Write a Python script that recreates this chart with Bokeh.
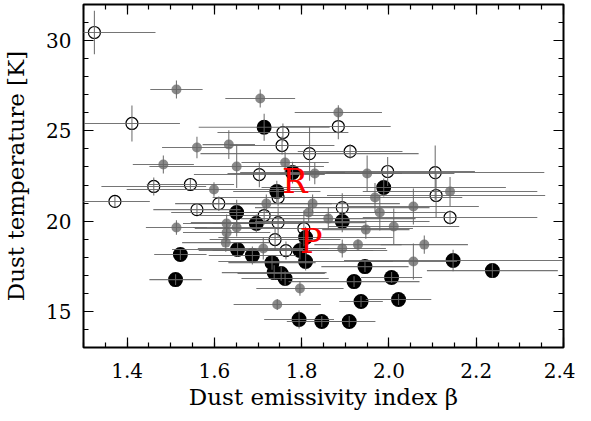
from bokeh.plotting import figure
from bokeh.models import ColumnDataSource, FixedTicker, LinearAxis, Range1d
from bokeh.core.properties import value
from bokeh.embed import file_html
from bokeh.resources import INLINE

# --- data: black filled points ---
blk_beta = [1.714, 1.779, 1.743, 1.651, 1.696, 1.653, 1.687, 1.732, 1.737, 1.753, 1.762, 1.796, 1.809, 1.809,
            1.522, 1.511, 1.794, 1.846, 1.909, 1.936, 2.022, 1.920, 2.006, 1.945, 2.147, 2.237, 1.988, 1.893]
blk_temp = [25.2, 22.69, 21.64, 20.48, 19.87, 18.43, 18.1, 17.7, 17.15, 17.1, 16.82, 18.37, 17.76, 19.09,
            18.15, 16.76, 14.55, 14.44, 14.44, 15.55, 15.66, 16.65, 16.88, 17.48, 17.82, 17.26, 21.86, 19.98]
blk_beta_err = [0.15, 0.12, 0.10, 0.15, 0.10, 0.15, 0.10, 0.10, 0.12, 0.10, 0.10, 0.20, 0.20, 0.20,
                0.06, 0.06, 0.08, 0.08, 0.06, 0.05, 0.075, 0.15, 0.07, 0.10, 0.25, 0.15, 0.28, 0.20]
blk_temp_err = [0.75, 0.6, 0.6, 0.7, 0.5, 0.4, 0.5, 0.4, 0.4, 0.4, 0.4, 0.5, 0.5, 0.6,
                0.3, 0.3, 0.5, 0.3, 0.3, 0.3, 0.3, 0.3, 0.3, 0.3, 0.6, 0.4, 0.5, 0.6]

# --- data: open circles ---
opn_beta = [1.325, 1.411, 1.757, 1.755, 1.818, 1.703, 1.884, 1.911, 1.997, 2.106, 2.108, 2.140, 1.893,
            1.372, 1.461, 1.545, 1.560, 1.610, 1.746, 1.714, 1.746, 1.739, 1.764, 1.805]
opn_temp = [30.45, 25.41, 24.91, 24.19, 23.74, 22.58, 25.24, 23.86, 22.75, 22.69, 21.42, 20.2, 20.75,
            21.09, 21.92, 22.03, 20.64, 20.97, 21.31, 20.31, 19.92, 18.98, 18.37, 19.59]
opn_beta_err = [0.14, 0.11, 0.15, 0.12, 0.25, 0.15, 0.12, 0.12, 0.20, 0.25, 0.25, 0.20, 0.20,
                0.08, 0.12, 0.10, 0.10, 0.10, 0.15, 0.15, 0.20, 0.15, 0.20, 0.25]
opn_temp_err = [1.2, 1.0, 0.5, 0.5, 1.5, 0.7, 0.7, 0.4, 0.8, 1.5, 1.2, 0.4, 0.8,
                0.3, 0.5, 0.3, 0.3, 0.4, 0.5, 0.5, 0.8, 0.6, 0.5, 1.0]

# --- data: gray filled points ---
gry_beta = [1.513, 1.705, 1.560, 1.633, 1.483, 1.651, 1.762, 1.830, 1.884, 1.950, 1.968, 2.140, 2.056,
            1.979, 1.861, 2.011, 1.947, 2.081, 1.929, 1.893, 2.056, 1.599, 1.719, 1.825, 1.513, 1.628,
            1.628, 1.626, 1.651, 1.712, 1.796, 1.744, 1.816]
gry_temp = [27.29, 26.79, 24.08, 24.24, 23.14, 23.03, 23.25, 22.64, 26.02, 22.64, 21.31, 21.64, 20.81,
            20.48, 20.14, 19.7, 19.53, 18.7, 18.7, 18.48, 17.76, 21.75, 20.97, 20.97, 19.65, 19.87,
            19.37, 18.81, 19.65, 18.48, 16.27, 15.38, 20.48]
gry_beta_err = [0.06, 0.08, 0.08, 0.06, 0.07, 0.20, 0.10, 0.20, 0.10, 0.20, 0.20, 0.20, 0.15,
                0.15, 0.20, 0.15, 0.10, 0.10, 0.10, 0.10, 0.10, 0.20, 0.15, 0.20, 0.07, 0.10,
                0.10, 0.10, 0.10, 0.15, 0.10, 0.10, 0.20]
gry_temp_err = [0.5, 0.5, 0.6, 0.8, 0.5, 1.2, 0.6, 0.6, 0.4, 1.0, 0.8, 0.8, 1.0,
                1.0, 0.6, 1.0, 0.5, 0.5, 0.3, 0.5, 1.0, 0.4, 0.5, 0.5, 0.4, 0.5,
                0.5, 0.5, 0.5, 0.6, 0.4, 0.3, 0.5]

# --- labels ---
label_text = ["R", "P"]
label_beta = [1.784, 1.822]
label_temp = [22.2, 18.88]

x_major = [1.4, 1.6, 1.8, 2.0, 2.2, 2.4]
x_labels = ["1.4", "1.6", "1.8", "2.0", "2.2", "2.4"]
x_minor = [round(1.3 + 0.05 * i, 2) for i in range(23)]
y_major = [15, 20, 25, 30]
y_labels = ["15", "20", "25", "30"]
y_minor = list(range(13, 33))

FONT = "DejaVu Serif"

p = figure(width=575, height=413, output_backend="svg", toolbar_location=None,
           x_range=Range1d(1.3, 2.4), y_range=Range1d(13, 32),
           min_border_left=77, min_border_right=12, min_border_top=4, min_border_bottom=66,
           background_fill_color="white", border_fill_color="white")
p.grid.visible = False
p.outline_line_color = "black"
p.outline_line_width = 2


def src(xs, ys, xe, ye):
    return ColumnDataSource(dict(
        x=xs, y=ys,
        x0=[a - e for a, e in zip(xs, xe)], x1=[a + e for a, e in zip(xs, xe)],
        y0=[a - e for a, e in zip(ys, ye)], y1=[a + e for a, e in zip(ys, ye)]))


s_gry = src(gry_beta, gry_temp, gry_beta_err, gry_temp_err)
s_opn = src(opn_beta, opn_temp, opn_beta_err, opn_temp_err)
s_blk = src(blk_beta, blk_temp, blk_beta_err, blk_temp_err)

p.scatter("x", "y", source=s_gry, size=10, fill_color="#8a8a8a", line_color=None)
p.scatter("x", "y", source=s_opn, size=12, fill_color=None, line_color="black", line_width=1.2)
p.scatter("x", "y", source=s_blk, size=15, fill_color="black", line_color=None)

for s in (s_gry, s_opn, s_blk):
    p.segment("x0", "y", "x1", "y", source=s, line_color="#666666", line_width=1.1, line_alpha=0.9)
    p.segment("x", "y0", "x", "y1", source=s, line_color="#666666", line_width=1.1, line_alpha=0.9)

p.text(label_beta, label_temp, text=label_text, text_color="red", text_font=value("DejaVu Serif"),
       text_font_size="34px", text_align="center", text_baseline="alphabetic")


def style(ax):
    ax.axis_line_color = None
    ax.major_tick_in = 10
    ax.major_tick_out = 0
    ax.minor_tick_in = 5
    ax.minor_tick_out = 0
    ax.major_tick_line_color = "black"
    ax.minor_tick_line_color = "black"
    ax.major_tick_line_width = 1.2
    ax.minor_tick_line_width = 1.2
    ax.major_label_text_font = FONT
    ax.major_label_text_font_size = "20px"
    ax.major_label_text_color = "black"
    ax.axis_label_text_font = FONT
    ax.axis_label_text_font_style = "normal"
    ax.axis_label_text_color = "black"


p.xaxis.ticker = FixedTicker(ticks=x_major, minor_ticks=x_minor)
p.yaxis.ticker = FixedTicker(ticks=y_major, minor_ticks=y_minor)
p.xaxis.major_label_overrides = dict(zip(x_major, x_labels))
p.yaxis.major_label_overrides = dict(zip(y_major, y_labels))
p.xaxis.axis_label = "Dust emissivity index β"
p.yaxis.axis_label = "Dust temperature [K]"
style(p.xaxis[0])
style(p.yaxis[0])
p.xaxis.axis_label_text_font_size = "23px"
p.yaxis.axis_label_text_font_size = "23px"
p.xaxis.major_label_standoff = 15
p.yaxis.major_label_standoff = 12
p.xaxis.axis_label_standoff = 3
p.yaxis.axis_label_standoff = 14

top = LinearAxis(ticker=FixedTicker(ticks=x_major, minor_ticks=x_minor))
right = LinearAxis(ticker=FixedTicker(ticks=y_major, minor_ticks=y_minor))
for ax, ticks in ((top, x_major), (right, y_major)):
    style(ax)
    ax.major_label_overrides = {t: "" for t in ticks}
    ax.major_label_standoff = 0
    ax.major_label_text_font_size = "1px"
    ax.axis_label_standoff = 0
p.add_layout(top, "above")
p.add_layout(right, "right")

open("out.html", "w").write(file_html(p, INLINE))
